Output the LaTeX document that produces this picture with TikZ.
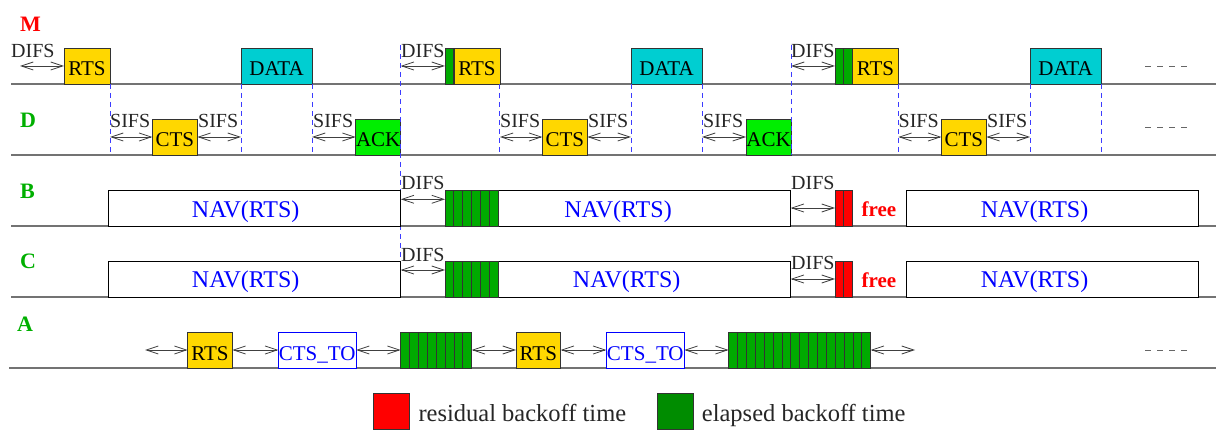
\documentclass[tikz,border=0pt]{standalone}
\usepackage{fontspec}
\setmainfont{Liberation Serif}
\usetikzlibrary{arrows.meta}
\definecolor{gold}{RGB}{255,215,0}
\definecolor{datacyan}{RGB}{0,206,209}
\definecolor{ackgreen}{RGB}{0,238,0}
\definecolor{slotgreen}{RGB}{0,170,0}
\definecolor{leggreen}{RGB}{0,140,0}
\definecolor{lblgreen}{RGB}{0,175,0}
\definecolor{dashblue}{RGB}{60,60,255}
\newcommand\lblfont{\fontsize{20}{22}\selectfont}
\newcommand\boxfont{\fontsize{21}{23}\selectfont}
\newcommand\navfont{\fontsize{24}{26}\selectfont}
\newcommand\legfont{\fontsize{24.5}{26}\selectfont}
\newcommand\rowfont{\fontsize{22}{24}\selectfont\bfseries}
\begin{document}
\begin{tikzpicture}[x=1pt,y=-1pt,
  axis/.style={draw=black!55, line width=1.4pt},
  pkt/.style={draw=black!80, line width=0.8pt, minimum height=36pt, inner sep=0pt, outer sep=0pt, text height=20pt, text depth=0pt, anchor=south west, font=\boxfont},
  slot/.style={pkt, minimum width=8.88pt, fill=slotgreen},
  rslot/.style={pkt, minimum width=8.85pt, fill=red},
  nav/.style={draw=black, line width=0.8pt, minimum height=36pt, inner sep=0pt, outer sep=0pt, anchor=south west, fill=white},
  navtxt/.style={anchor=base, inner sep=0pt, text=blue, font=\navfont},
  lbl/.style={anchor=base west, inner sep=0pt, text=black!85, font=\lblfont},
  gap/.style={draw=black!75, line width=0.8pt, {Straight Barb[length=12pt,width=8pt]}-{Straight Barb[length=12pt,width=8pt]}},
  vdash/.style={draw=dashblue, line width=0.9pt, dash pattern=on 5pt off 4pt},
  more/.style={draw=black!60, line width=0.9pt, dash pattern=on 6pt off 6pt},
  rowlbl/.style={anchor=base west, inner sep=0pt, font=\rowfont},
  freelbl/.style={anchor=base, inner sep=0pt, text=red, font=\boxfont\bfseries},
  legbox/.style={draw=black!80, line width=0.8pt, minimum width=36pt, minimum height=35.5pt, inner sep=0pt, anchor=south west},
  legtxt/.style={anchor=base west, inner sep=0pt, text=black!85, font=\legfont},
]
\useasboundingbox (0,0) rectangle (1216,430);

% time axes
\draw[axis] (11,84) -- (1216,84);
\draw[axis] (11,155) -- (1216,155);
\draw[axis] (11,226) -- (1216,226);
\draw[axis] (11,297) -- (1216,297);
\draw[axis] (9,368) -- (1216,368);

% row labels
\node[rowlbl, text=red] (lM) at (20,31.7) {M};
\node[rowlbl, text=lblgreen] (lD) at (20,128) {D};
\node[rowlbl, text=lblgreen] (lB) at (20,199) {B};
\node[rowlbl, text=lblgreen] (lC) at (20,269) {C};
\node[rowlbl, text=lblgreen] (lA) at (17,332) {A};

% ---------- M row ----------
\node[pkt, fill=gold, minimum width=46pt] (rts1) at (64,84) {RTS};
\node[pkt, fill=datacyan, minimum width=71pt] (data1) at (241,84) {DATA};
\node[slot] (ms2) at (445,84) {};
\node[pkt, fill=gold, minimum width=46pt] (rts2) at (453.9,84) {RTS};
\node[pkt, fill=datacyan, minimum width=71pt] (data2) at (631,84) {DATA};
\node[slot] (ms3a) at (835,84) {};
\node[slot] (ms3b) at (843.8,84) {};
\node[pkt, fill=gold, minimum width=45.6pt] (rts3) at (852.7,84) {RTS};
\node[pkt, fill=datacyan, minimum width=71pt] (data3) at (1030,84) {DATA};

% ---------- D row ----------
\node[pkt, fill=gold, minimum width=45pt] (cts1) at (152.3,155) {CTS};
\node[pkt, fill=ackgreen, minimum width=45pt] (ack1) at (355.7,155) {ACK};
\node[pkt, fill=gold, minimum width=45pt] (cts2) at (542.3,155) {CTS};
\node[pkt, fill=ackgreen, minimum width=45pt] (ack2) at (746,155) {ACK};
\node[pkt, fill=gold, minimum width=45pt] (cts3) at (941.3,155) {CTS};

% dashed guides
\draw[vdash] (rts1.south east) -- ++(0,71);
\draw[vdash] (data1.south west) -- ++(0,71);
\draw[vdash] (data1.south east) -- ++(0,71);
\draw[vdash] (ack1.south east |- 0,45) -- (ack1.south east |- 0,261);
\draw[vdash] (rts2.south east) -- ++(0,71);
\draw[vdash] (data2.south west) -- ++(0,71);
\draw[vdash] (data2.south east) -- ++(0,71);
\draw[vdash] (ack2.south east |- 0,45) -- (ack2.south east |- 0,155);
\draw[vdash] (rts3.south east) -- ++(0,71);
\draw[vdash] (data3.south west) -- ++(0,71);
\draw[vdash] (data3.south east) -- ++(0,71);

% M row gaps
\coordinate (m1s) at (20,66);
\draw[gap] (m1s) -- (rts1.west);
\node[lbl] (difsm1) at (11,58) {DIFS};
\draw[gap] (ack1.south east |- ms2.west) -- (ms2.west);
\node[lbl] (difsm2) at (401,58) {DIFS};
\draw[gap] (ack2.south east |- ms3a.west) -- (ms3a.west);
\node[lbl] (difsm3) at (791,58) {DIFS};

% D row gaps
\draw[gap] (rts1.south east |- cts1.west) -- (cts1.west);
\draw[gap] (cts1.east) -- (data1.south west |- cts1.east);
\draw[gap] (data1.south east |- ack1.west) -- (ack1.west);
\node[lbl] at (110,128) {SIFS};
\node[lbl] at (198,128) {SIFS};
\node[lbl] at (313,128) {SIFS};
\draw[gap] (rts2.south east |- cts2.west) -- (cts2.west);
\draw[gap] (cts2.east) -- (data2.south west |- cts2.east);
\draw[gap] (data2.south east |- ack2.west) -- (ack2.west);
\node[lbl] at (500,128) {SIFS};
\node[lbl] at (588,128) {SIFS};
\node[lbl] at (703,128) {SIFS};
\draw[gap] (rts3.south east |- cts3.west) -- (cts3.west);
\draw[gap] (cts3.east) -- (data3.south west |- cts3.east);
\node[lbl] at (898.5,128) {SIFS};
\node[lbl] at (987,128) {SIFS};

% ---------- B row ----------
\node[nav, minimum width=292.4pt] (bnav1) at (108.3,226) {};
\node[navtxt] at (245.7,217.5) {NAV(RTS)};
\node[nav, minimum width=345.7pt] (bnav2) at (445,226) {};
\foreach \i in {0,...,5} \node[slot] (bs\i) at ({445+\i*8.883},226) {};
\node[navtxt] at (618,217.5) {NAV(RTS)};
\draw[gap] ([yshift=8.7pt]bnav1.east) -- ([yshift=8.7pt]bs0.west);
\node[lbl] at (401,190) {DIFS};
\node[rslot] (br1) at (835,226) {};
\node[rslot] (br2) at (843.85,226) {};
\draw[gap] (bnav2.east) -- (br1.west);
\node[lbl] at (791,190) {DIFS};
\node[freelbl] at (879,216.5) {free};
\node[nav, minimum width=292.3pt] (bnav3) at (906,226) {};
\node[navtxt] at (1034.5,217.5) {NAV(RTS)};

% ---------- C row ----------
\node[nav, minimum width=292.4pt] (cnav1) at (108.3,297) {};
\node[navtxt] at (245.7,288) {NAV(RTS)};
\node[nav, minimum width=345.7pt] (cnav2) at (445,297) {};
\foreach \i in {0,...,5} \node[slot] (cs\i) at ({445+\i*8.883},297) {};
\node[navtxt] at (626.7,288) {NAV(RTS)};
\draw[gap] ([yshift=9pt]cnav1.east) -- ([yshift=9pt]cs0.west);
\node[lbl] at (401,262) {DIFS};
\node[rslot] (cr1) at (835,297) {};
\node[rslot] (cr2) at (843.85,297) {};
\draw[gap] (cnav2.east) -- (cr1.west);
\node[lbl] at (791,270) {DIFS};
\node[freelbl] at (879,287.5) {free};
\node[nav, minimum width=292.3pt] (cnav3) at (906,297) {};
\node[navtxt] at (1034.5,288) {NAV(RTS)};

% ---------- A row ----------
\coordinate (a0) at (145,350);
\node[pkt, fill=gold, minimum width=44.6pt] (arts1) at (187.7,368) {RTS};
\node[pkt, draw=blue, fill=white, text=blue, minimum width=77.7pt] (ato1) at (278.3,368) {CTS\_TO};
\foreach \i in {0,...,7} \node[slot] (as\i) at ({400.7+\i*8.875},368) {};
\node[pkt, fill=gold, minimum width=44.7pt] (arts2) at (516,368) {RTS};
\node[pkt, draw=blue, fill=white, text=blue, minimum width=78pt] (ato2) at (606.3,368) {CTS\_TO};
\foreach \i in {0,...,15} \node[slot] (at\i) at ({728.7+\i*8.875},368) {};
\coordinate (a9) at (915,350);
\draw[gap] (a0) -- (arts1.west);
\draw[gap] (arts1.east) -- (ato1.west);
\draw[gap] (ato1.east) -- (as0.west);
\draw[gap] (as7.east) -- (arts2.west);
\draw[gap] (arts2.east) -- (ato2.west);
\draw[gap] (ato2.east) -- (at0.west);
\draw[gap] (at15.east) -- (a9);

% continuation dashes
\coordinate (dm0) at (1145,66); \coordinate (dm1) at (1190,66);
\coordinate (dd0) at (1145,127.7); \coordinate (dd1) at (1190,127.7);
\coordinate (da0) at (1145,350); \coordinate (da1) at (1190,350);
\draw[more] (dm0) -- (dm1);
\draw[more] (dd0) -- (dd1);
\draw[more] (da0) -- (da1);

% legend
\node[legbox, fill=red] (legr) at (373.3,429.6) {};
\node[legtxt] (legrt) at (418.3,421.7) {residual backoff time};
\node[legbox, fill=leggreen] (legg) at (657.3,429.6) {};
\node[legtxt] (leggt) at (701.7,421.7) {elapsed backoff time};
\end{tikzpicture}
\end{document}
